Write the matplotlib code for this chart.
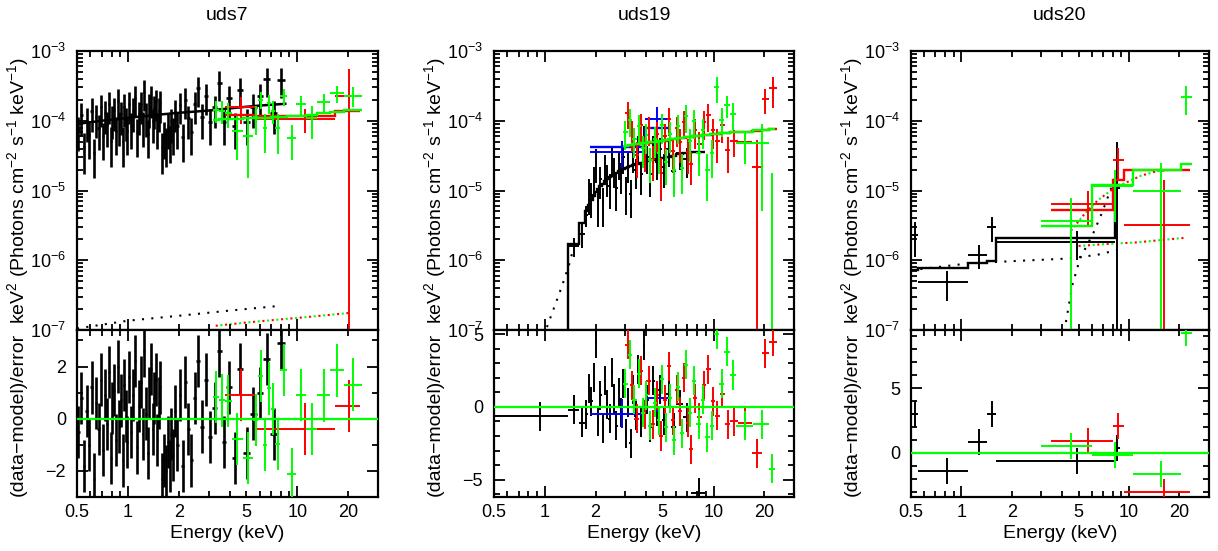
import numpy as np
import matplotlib
matplotlib.use('Agg')
import matplotlib.pyplot as plt
from matplotlib.ticker import FixedLocator, NullFormatter, LogLocator, MultipleLocator, FuncFormatter

plt.rcParams['font.family'] = ['Liberation Sans', 'DejaVu Sans']
plt.rcParams['mathtext.fontset'] = 'custom'
plt.rcParams['mathtext.rm'] = 'Liberation Sans'
plt.rcParams['mathtext.it'] = 'Liberation Sans:italic'
plt.rcParams['mathtext.bf'] = 'Liberation Sans:bold'

titles = ['uds7', 'uds19', 'uds20']

# ---------------- uds7 (values of spectra in 1e-4) ----------------
k7_edges = [0.50, 0.52, 0.54, 0.56, 0.58, 0.60, 0.62, 0.64, 0.66, 0.68, 0.70, 0.72, 0.74,
            0.76, 0.78, 0.80, 0.82, 0.84, 0.86, 0.88, 0.90, 0.92, 0.94, 0.96, 0.98, 1.00,
            1.025, 1.055, 1.085, 1.115, 1.145, 1.175, 1.205, 1.235, 1.265, 1.295, 1.325,
            1.355, 1.385, 1.415, 1.445, 1.475, 1.505, 1.535, 1.57,
            1.62, 1.66, 1.70, 1.74, 1.78, 1.82, 1.875, 1.93, 1.99, 2.06, 2.14, 2.22, 2.32,
            2.42, 2.54, 2.67, 2.82, 2.97, 3.15, 3.35, 3.57, 3.82, 4.1, 4.42, 4.8, 5.25,
            5.75, 6.3, 6.9, 7.6, 8.5]
k7_y = [0.75, 1.2, 0.42, 1.0, 0.63, 1.4, 0.35, 1.13, 0.8, 1.56,
        0.6, 1.3, 0.87, 1.75, 0.52, 1.1, 1.42, 0.72, 1.92, 0.88,
        1.25, 0.52, 1.6, 1.02, 0.72, 1.75, 0.85, 1.4, 2.15, 0.68,
        1.25, 1.75, 0.87, 2.6, 1.18, 0.65, 1.6, 2.1, 0.98, 1.5,
        1.9, 0.85, 1.4, 1.8, 0.42, 0.62, 0.5, 0.85, 0.55, 0.98,
        0.7, 1.35, 0.85, 1.7, 0.58, 2.0, 1.1, 0.7, 1.75, 2.9,
        1.15, 2.3, 0.95, 1.55, 3.5, 0.95, 2.1, 0.85, 2.8, 0.95,
        1.6, 2.3, 4.0, 1.3, 3.9]
k7_dy = [0.38, 0.6, 0.25, 0.5, 0.35, 0.7, 0.2, 0.56, 0.42, 0.75,
         0.33, 0.65, 0.45, 0.85, 0.3, 0.55, 0.7, 0.4, 0.9, 0.45,
         0.62, 0.3, 0.78, 0.5, 0.4, 0.85, 0.45, 0.7, 1.0, 0.38,
         0.62, 0.85, 0.45, 1.2, 0.6, 0.36, 0.8, 1.0, 0.5, 0.75,
         0.9, 0.45, 0.7, 0.88, 0.25, 0.34, 0.28, 0.45, 0.3, 0.5,
         0.38, 0.65, 0.45, 0.8, 0.32, 0.95, 0.55, 0.38, 0.85, 1.3,
         0.6, 1.1, 0.5, 0.75, 1.6, 0.5, 1.0, 0.45, 1.3, 0.5,
         0.8, 1.1, 1.8, 0.65, 1.8]
k7_res = [-0.5, 0.8, -1.8, 0.3, -1.0, 1.2, -2.3, 0.6, -0.4, 1.5,
          -1.2, 0.9, -0.2, 1.8, -1.5, 0.4, 1.1, -0.8, 2.0, -0.3,
          0.7, -1.6, 1.3, 0.1, -0.9, 1.6, -0.5, 0.9, 2.2, -1.1,
          0.5, 1.4, -0.6, 2.6, 0.2, -1.3, 1.0, 1.9, -0.4, 0.8,
          1.5, -0.8, 0.6, 1.2, -2.3, -1.6, -2.0, -0.9, -1.8, -0.6,
          -1.4, 0.3, -1.0, 0.9, -1.8, 1.4, -0.4, -1.6, 0.8, 2.2,
          -0.3, 1.5, -0.7, 0.4, 2.6, -0.9, 1.2, -1.5, 1.9, -1.3,
          0.2, 1.0, 2.3, -0.6, 2.9]
k7_model_e = [0.5, 0.7, 1.0, 1.5, 2.0, 3.0, 4.5, 6.0, 8.5]
k7_model = [0.9, 1.0, 1.1, 1.22, 1.3, 1.4, 1.55, 1.65, 1.75]

r7_edges = [3.74, 5.6, 16.7, 23.5]
r7_y = [1.55, 1.07, 2.3]
r7_dy = [0.65, 0.4, 3.2]
r7_model = [1.2, 1.18, 1.4]
r7_res = [0.9, -0.4, 0.5]

g7_edges = [3.2, 3.46, 3.75, 4.1, 4.75, 5.45, 5.9, 6.25, 6.65, 7.02, 7.4, 7.9, 8.75,
            9.9, 11.2, 13.1, 15.6, 18.9, 24.0]
g7_y = [1.44, 1.4, 1.3, 0.72, 0.6, 1.12, 2.0, 0.8, 1.8, 1.4, 0.78, 2.25, 0.57, 1.75,
        1.1, 1.85, 2.5, 2.3]
g7_dy = [0.5, 0.5, 0.5, 0.45, 0.45, 0.5, 0.55, 0.45, 0.55, 0.5, 0.45, 0.6, 0.3, 0.55,
         0.55, 0.6, 0.7, 0.75]
g7_model = [1.04, 1.05, 1.06, 1.07, 1.08, 1.09, 1.1, 1.1, 1.11, 1.12, 1.13, 1.14, 1.16,
            1.18, 1.22, 1.28, 1.35, 1.42]
g7_res = [0.82, 0.7, 0.69, -0.78, -1.51, -0.05, 1.63, -1.0, 1.16, 0.36, -0.98, 1.88,
          -2.12, 0.9, -0.39, 0.89, 1.85, 1.31]

k7_bkg_e = [0.5, 1.0, 2.0, 4.0, 7.6]
k7_bkg = [1.05e-7, 1.36e-7, 1.6e-7, 1.9e-7, 2.2e-7]
rg7_bkg_e = [3.3, 5.0, 8.0, 12.0, 20.0]
rg7_bkg = [1.15e-7, 1.28e-7, 1.42e-7, 1.55e-7, 1.75e-7]

# ---------------- uds19 (values of spectra in 1e-5) ----------------
k19_edges = [0.5, 1.37, 1.6, 1.72, 1.8, 1.86, 1.92, 1.98, 2.04, 2.1, 2.17, 2.24, 2.31,
             2.38, 2.46, 2.54, 2.62, 2.7, 2.79, 2.88, 2.97, 3.07, 3.17, 3.28, 3.4, 3.52,
             3.65, 3.8, 3.95, 4.12, 4.3, 4.5, 4.72, 4.96, 5.25, 5.6, 6.0, 6.6, 7.4, 8.9]
k19_y = [0.003, 0.16, 0.24, 0.45, 0.95, 0.85, 1.5, 2.6, 0.7, 1.45, 0.7, 2.2, 1.55,
         1.15, 2.9, 2.0, 1.1, 2.5, 1.7, 3.0, 1.0, 2.4, 0.9, 3.2, 1.95, 4.3, 1.7, 6.0,
         3.0, 1.7, 4.3, 2.6, 4.0, 2.2, 3.9, 1.9, 3.5, 2.8, 0.003]
k19_dy = [0.002, 0.05, 0.09, 0.15, 0.5, 0.45, 0.7, 1.3, 0.4, 0.7, 0.4, 1.0, 0.75,
          0.6, 1.3, 0.9, 0.6, 1.1, 0.8, 1.3, 0.55, 1.1, 0.5, 1.4, 0.9, 1.8, 0.85, 2.4,
          1.3, 0.9, 1.8, 1.2, 1.7, 1.1, 1.7, 1.0, 1.5, 1.3, 0.002]
k19_model = [0.005, 0.17, 0.34, 0.5, 0.62, 0.73, 0.84, 0.95, 1.05, 1.15, 1.25, 1.35,
             1.45, 1.55, 1.63, 1.72, 1.8, 1.88, 1.95, 2.02, 2.1, 2.17, 2.24, 2.3, 2.36,
             2.42, 2.5, 2.56, 2.62, 2.7, 2.76, 2.83, 2.9, 2.97, 3.05, 3.15, 3.3, 3.5, 3.6]
k19_res = [-0.65, -0.2, -1.1, -0.5, 1.3, 0.4, 2.0, 4.4, -1.0, 0.8, -1.5, 1.8, 0.2,
           -0.8, 2.4, 0.6, -1.3, 1.0, -0.4, 1.6, -1.8, 0.3, -2.5, 1.2, -0.6, 2.6, -1.1,
           4.2, 0.5, -1.4, 1.8, -0.3, 1.2, -0.9, 0.9, -1.4, 0.2, -0.7, -5.9]

b19_edges = [1.85, 3.9, 5.4]
b19_y = [3.6, 10.5]
b19_dy = [1.5, 5.5]
b19_model = [4.2, 7.8]
b19_res = [-0.45, 0.65]

r19_edges = [3.0, 3.2, 3.4, 3.6, 3.8, 4.0, 4.25, 4.5, 4.75, 5.0, 5.3, 5.6, 5.9, 6.2,
             6.5, 6.85, 7.2, 7.6, 8.0, 8.5, 9.0, 9.6, 10.2, 10.9, 11.7, 12.6, 14.0,
             16.8, 19.4, 21.2, 23.8]
r19_y = [13, 6.8, 3.2, 8.6, 3.85, 7.9, 2.86, 6.44, 1.8, 6.1, 10.6, 3.7, 7.8, 5.0,
         9.7, 3.6, 2.4, 7.3, 4.6, 9.5, 12.0, 7.3, 5.1, 8.8, 3.8, 5.2, 5.0, 2.2, 20.5, 29]
r19_dy = [5.5, 3.2, 1.7, 3.9, 2.0, 3.6, 1.5, 3.0, 1.1, 2.9, 4.6, 1.9, 3.6, 2.5, 4.3,
          1.9, 1.2, 3.4, 2.3, 4.2, 5.2, 3.4, 2.6, 4.0, 2.0, 2.2, 2.2, 3.1, 8.0, 14]
r19_model = [4.3, 4.4, 4.5, 4.6, 4.7, 4.8, 4.9, 5.0, 5.1, 5.2, 5.3, 5.4, 5.5, 5.6, 5.7,
             5.8, 5.9, 6.0, 6.1, 6.2, 6.3, 6.4, 6.5, 6.6, 6.7, 6.8, 7.0, 7.2, 7.4, 7.5]
r19_res = [4.3, 1.5, -0.8, 2.5, -0.5, 1.8, -1.2, 0.8, -2.0, 0.5, 2.8, -0.9, 1.2, -0.3,
           2.0, -1.1, -2.9, 0.6, -0.7, 1.5, 2.6, 0.4, -0.6, 0.9, -1.2, -1.0, -1.1, -3.2,
           3.7, 4.5]

g19_edges = [2.9, 3.1, 3.3, 3.5, 3.7, 3.9, 4.1, 4.35, 4.6, 4.85, 5.1, 5.4, 5.7, 6.0,
             6.35, 6.7, 7.1, 7.5, 7.9, 8.4, 8.9, 9.5, 10.1, 10.8, 11.6, 12.5, 13.6, 17.2,
             21.4, 23.2]
g19_y = [6.8, 10.3, 5.4, 8.4, 4.1, 6.2, 2.7, 5.5, 3.5, 8.6, 2.6, 6.5, 2.0, 8.4, 2.1,
         11.6, 5.1, 9.8, 3.5, 7.3, 2.0, 3.4, 30, 10.4, 17, 12.5, 4.8, 4.8, 0.005]
g19_dy = [3.0, 4.5, 2.5, 3.8, 2.0, 2.9, 1.4, 2.6, 1.8, 3.9, 1.4, 3.0, 1.2, 3.8, 1.2,
          5.0, 2.5, 4.4, 1.9, 3.4, 1.3, 1.9, 12, 4.6, 6.0, 5.2, 2.4, 4.3, 1.8]
g19_model = [4.4, 4.5, 4.6, 4.7, 4.8, 4.85, 4.9, 5.0, 5.1, 5.2, 5.3, 5.4, 5.5, 5.6,
             5.7, 5.8, 5.9, 6.0, 6.1, 6.2, 6.3, 6.4, 6.5, 6.6, 6.7, 6.8, 7.0, 7.3, 7.6]
g19_res = [1.6, 3.6, 0.5, 2.3, -0.4, 0.8, -1.3, 0.3, -0.9, 1.9, -1.4, 0.6, -2.3, 1.4,
           -1.8, 2.9, -0.4, 1.8, -1.2, 0.5, -2.1, -1.3, 5.0, 1.6, 3.8, 2.2, -1.3, -1.2,
           -4.25]

k19_dot_e = [1.03, 1.1, 1.2, 1.3, 1.4, 1.5]
k19_dot = [1.1e-7, 1.7e-7, 3.0e-7, 5.2e-7, 9e-7, 1.7e-6]

# ---------------- uds20 (absolute values) ----------------
k20_edges = [0.5, 0.55, 1.1, 1.43, 1.6, 8.2, 8.8]
k20_y = [2.3e-6, 4.8e-7, 1.2e-6, 3.0e-6, 1.8e-6, 1.1e-5]
k20_dy = [1.2e-6, 2.2e-7, 4.5e-7, 1.2e-6, 8e-7, 3.9e-5]
k20_model = [7.2e-7, 7.7e-7, 9.2e-7, 9.9e-7, 2.1e-6, 1.2e-5]
k20_res = [3.0, -1.42, 0.82, 3.0, -0.65, 0.38]

r20_edges = [3.4, 8.0, 9.3, 23.0]
r20_y = [6.5e-6, 2.75e-5, 3.2e-6]
r20_dy = [3.5e-6, 1.3e-5, 1.1e-5]
r20_model = [5.2e-6, 1.4e-5, 2.0e-5]
r20_res = [0.9, 2.1, -3.0]

g20_edges = [2.97, 6.0, 10.6, 20.3, 23.6]
g20_y = [3.7e-6, 1.15e-5, 1.0e-5, 2.2e-4]
g20_dy = [4.1e-6, 8e-6, 1.45e-5, 1.0e-4]
g20_model = [3.1e-6, 1.2e-5, 2.0e-5, 2.4e-5]
g20_res = [0.56, -0.18, -1.62, 9.3]

k20_dot1_e = [0.5, 1.1, 2.0, 4.4, 6.5, 8.5]
k20_dot1 = [7.2e-7, 9.0e-7, 9.7e-7, 1.06e-6, 1.2e-6, 1.4e-6]
k20_dot2_e = [4.2, 4.6, 5.1, 6.1, 6.9, 8.1, 8.4]
k20_dot2 = [1.3e-7, 4.5e-7, 1.06e-6, 2.4e-6, 4.8e-6, 1.35e-5, 1.8e-5]
g20_dot1_e = [4.5, 5.5, 6.5, 8.2, 9.8, 11.8, 14.7, 17.7]
g20_dot1 = [2.65e-6, 4.8e-6, 7.2e-6, 1.1e-5, 1.33e-5, 1.63e-5, 1.9e-5, 1.97e-5]
rg20_dot2_e = [5.0, 7.0, 11.0, 21.7]
rg20_dot2 = [1.6e-6, 1.7e-6, 1.8e-6, 2.1e-6]

W, H = 1218.0, 551.0
lefts = [77, 494, 911]
widths = [301, 300, 298]
res_lims = [(-3.0, 3.4), (-6.2, 5.3), (-3.4, 9.5)]
res_major = [2, 5, 5]

RED, GREEN, BLUE = '#ff0000', '#00ff00', '#0000ff'
dots = (0, (1, 3.5))
dots_shift = (2.25, (1, 3.5))


def cross(ax, edges, y, dy, color, z, lw=1.4):
    e = np.asarray(edges, dtype=float)
    lo, hi = e[:-1], e[1:]
    x = (lo + hi) / 2
    ax.errorbar(x, y, xerr=[x - lo, hi - x], yerr=dy, fmt='none', ecolor=color,
                elinewidth=lw, capsize=0, zorder=z)


def model(ax, edges, vals, color, z):
    ax.stairs(vals, edges, baseline=None, color=color, lw=1.7, zorder=z)


def style(ax, upper):
    ax.set_xscale('log')
    ax.set_xlim(0.5, 30)
    ax.xaxis.set_major_locator(FixedLocator([1, 10]))
    ax.xaxis.set_minor_locator(FixedLocator([0.5, 0.6, 0.7, 0.8, 0.9, 2, 3, 4, 5, 6, 7,
                                             8, 9, 20, 30]))
    if upper:
        ax.xaxis.set_major_formatter(NullFormatter())
        ax.xaxis.set_minor_formatter(NullFormatter())
    else:
        ax.xaxis.set_major_formatter(FuncFormatter(lambda v, p: '%g' % v))
        ax.xaxis.set_minor_formatter(FuncFormatter(
            lambda v, p: ('%g' % v) if min(abs(v - t) for t in (0.5, 2, 5, 20)) < 1e-6 else ''))
    ax.tick_params(which='both', direction='in', top=True, right=True, width=1.3,
                   labelsize=13)
    ax.tick_params(axis='y', which='both', pad=8)
    ax.tick_params(axis='x', which='both', pad=5)
    ax.tick_params(which='major', length=8)
    ax.tick_params(which='minor', length=4.5)
    for s in ax.spines.values():
        s.set_linewidth(1.6)


fig = plt.figure(figsize=(W / 100, H / 100), dpi=100)

for i in range(3):
    left = lefts[i]
    axu = fig.add_axes([left / W, (H - 330) / H, widths[i] / W, 279 / H])
    axr = fig.add_axes([left / W, (H - 497) / H, widths[i] / W, 167 / H])
    axu.set_yscale('log')

    if i == 0:
        axu.plot(k7_bkg_e, k7_bkg, color='k', ls=dots, lw=1.5, zorder=1)
        axu.plot(rg7_bkg_e, rg7_bkg, color=RED, ls=dots, lw=1.5, zorder=1)
        axu.plot(rg7_bkg_e, rg7_bkg, color=GREEN, ls=dots_shift, lw=1.5, zorder=1)
        cross(axu, k7_edges, np.array(k7_y) * 1e-4, np.array(k7_dy) * 1e-4, 'k', 2, 1.9)
        axu.plot(k7_model_e, np.array(k7_model) * 1e-4, color='k', lw=1.8, zorder=3)
        cross(axu, r7_edges, np.array(r7_y) * 1e-4, np.array(r7_dy) * 1e-4, RED, 4)
        model(axu, r7_edges, np.array(r7_model) * 1e-4, RED, 5)
        cross(axu, g7_edges, np.array(g7_y) * 1e-4, np.array(g7_dy) * 1e-4, GREEN, 6)
        model(axu, g7_edges, np.array(g7_model) * 1e-4, GREEN, 7)
        cross(axr, k7_edges, k7_res, 1.0, 'k', 2, 1.9)
        cross(axr, r7_edges, r7_res, 1.0, RED, 4)
        cross(axr, g7_edges, g7_res, 1.0, GREEN, 6)
    elif i == 1:
        axu.plot(k19_dot_e, k19_dot, color='k', ls=dots, lw=1.5, zorder=1)
        cross(axu, k19_edges, np.array(k19_y) * 1e-5, np.array(k19_dy) * 1e-5, 'k', 2)
        model(axu, k19_edges, np.array(k19_model) * 1e-5, 'k', 3)
        cross(axu, b19_edges, np.array(b19_y) * 1e-5, np.array(b19_dy) * 1e-5, BLUE, 4)
        model(axu, b19_edges, np.array(b19_model) * 1e-5, BLUE, 4)
        cross(axu, r19_edges, np.array(r19_y) * 1e-5, np.array(r19_dy) * 1e-5, RED, 5)
        model(axu, r19_edges, np.array(r19_model) * 1e-5, RED, 6)
        cross(axu, g19_edges, np.array(g19_y) * 1e-5, np.array(g19_dy) * 1e-5, GREEN, 7)
        model(axu, g19_edges, np.array(g19_model) * 1e-5, GREEN, 8)
        cross(axr, k19_edges, k19_res, 1.0, 'k', 2)
        cross(axr, b19_edges, b19_res, 1.0, BLUE, 4)
        cross(axr, r19_edges, r19_res, 1.0, RED, 5)
        cross(axr, g19_edges, g19_res, 1.0, GREEN, 6)
    else:
        axu.plot(k20_dot1_e, k20_dot1, color='k', ls=dots, lw=1.5, zorder=1)
        axu.plot(k20_dot2_e, k20_dot2, color='k', ls=dots, lw=1.5, zorder=1)
        axu.plot(g20_dot1_e, g20_dot1, color=RED, ls=dots, lw=1.5, zorder=1)
        axu.plot(g20_dot1_e, g20_dot1, color=GREEN, ls=dots_shift, lw=1.5, zorder=1)
        axu.plot(rg20_dot2_e, rg20_dot2, color=RED, ls=dots, lw=1.5, zorder=1)
        axu.plot(rg20_dot2_e, rg20_dot2, color=GREEN, ls=dots_shift, lw=1.5, zorder=1)
        cross(axu, k20_edges, k20_y, k20_dy, 'k', 2)
        model(axu, k20_edges, k20_model, 'k', 3)
        cross(axu, r20_edges, r20_y, r20_dy, RED, 4)
        model(axu, r20_edges, r20_model, RED, 5)
        cross(axu, g20_edges, g20_y, g20_dy, GREEN, 6)
        model(axu, g20_edges, g20_model, GREEN, 7)
        cross(axr, k20_edges, k20_res, 1.0, 'k', 2)
        cross(axr, r20_edges, r20_res, 1.0, RED, 4)
        cross(axr, g20_edges, g20_res, 1.0, GREEN, 6)

    axr.axhline(0, color=GREEN, lw=1.6, zorder=10)

    style(axu, True)
    style(axr, False)
    axu.set_ylim(1e-7, 1e-3)
    axu.yaxis.set_major_locator(LogLocator(base=10, numticks=10))
    axu.yaxis.set_minor_locator(LogLocator(base=10, subs=np.arange(2, 10), numticks=20))
    axu.yaxis.set_minor_formatter(NullFormatter())
    axr.set_ylim(*res_lims[i])
    axr.yaxis.set_major_locator(MultipleLocator(res_major[i]))
    axr.yaxis.set_minor_locator(MultipleLocator(1))

    cx = left + widths[i] / 2
    fig.text(cx / W, 1 - 16 / H, titles[i], ha='center', va='center', fontsize=14)
    fig.text(cx / W, 1 - 533 / H, 'Energy (keV)', ha='center', va='center', fontsize=14)
    fig.text((left - 59) / W, 1 - 190.5 / H,
             'keV$^2$ (Photons cm$^{-2}$ s$^{-1}$ keV$^{-1}$)',
             rotation=90, ha='center', va='center', fontsize=14)
    fig.text((left - 59) / W, 1 - 414 / H, '(data\u2212model)/error',
             rotation=90, ha='center', va='center', fontsize=14)

fig.savefig('out.png', dpi=100)
